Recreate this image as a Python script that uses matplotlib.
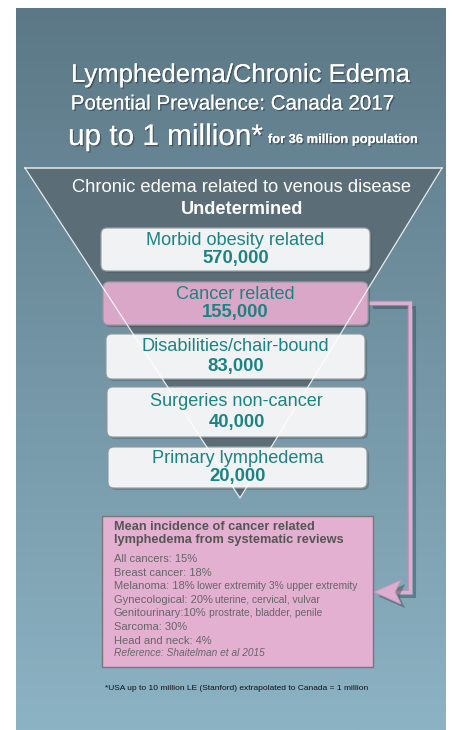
import numpy as np
import matplotlib
matplotlib.use("Agg")
import matplotlib.pyplot as plt
from matplotlib.patches import Polygon, FancyBboxPatch, Rectangle
import matplotlib.patheffects as pe

plt.rcParams['font.family'] = ['Liberation Sans', 'DejaVu Sans']

# Data
title_lines = ["Lymphedema/Chronic Edema", "Potential Prevalence: Canada 2017"]
headline = "up to 1 million*"
headline_small = "for 36 million population"
top_label = "Chronic edema related to venous disease"
top_value = "Undetermined"
categories = ["Morbid obesity related", "Cancer related", "Disabilities/chair-bound",
              "Surgeries non-cancer", "Primary lymphedema"]
values = [570000, 155000, 83000, 40000, 20000]
highlight = "Cancer related"

box_title = "Mean incidence of cancer related\nlymphedema from systematic reviews"
incidence_main = ["All cancers: 15%", "Breast cancer: 18%", "Melanoma: 18%", "Gynecological: 20%",
                  "Genitourinary:10%", "Sarcoma: 30%", "Head and neck: 4%"]
incidence_note = ["", "", "lower extremity 3% upper extremity", "uterine, cervical, vulvar",
                  "prostrate, bladder, penile", "", ""]
reference = "Reference: Shaitelman et al 2015"
footnote = "*USA up to 10 million LE (Stanford) extrapolated to Canada = 1 million"

# Layout (pixel coords, y down)
W, H = 462, 730
box_rows = [(101, 370, 228, 271), (103, 368, 282, 325), (106, 365, 334, 379),
            (107, 366, 387, 437), (108, 367, 447, 488)]

fig = plt.figure(figsize=(W / 100, H / 100), dpi=100)
ax = fig.add_axes([0, 0, 1, 1])
ax.set_xlim(0, W)
ax.set_ylim(H, 0)
ax.axis('off')

# gradient panel
grad = np.linspace(0, 1, 256).reshape(-1, 1)
top_c = np.array([0x5c, 0x78, 0x86]) / 255
bot_c = np.array([0x8c, 0xb3, 0xc4]) / 255
img = top_c + (bot_c - top_c) * grad[:, :, None]
ax.imshow(img, extent=[16, 446, 730, 8], aspect='auto', zorder=0)

shadow = [pe.withSimplePatchShadow(offset=(1, -1), shadow_rgbFace='#2c3a42', alpha=0.6), pe.Normal()]

# titles
ax.text(241, 75, title_lines[0], color='white', fontsize=18.5, ha='center', va='center',
        path_effects=shadow)
ax.text(232, 104, title_lines[1], color='white', fontsize=14.8, ha='center', va='center',
        path_effects=shadow)
t1 = ax.text(68, 137, headline, color='white', fontsize=21.4, ha='left', va='center',
             path_effects=shadow)
fig.canvas.draw()
x_end = ax.transData.inverted().transform(t1.get_window_extent().p1)[0]
ax.text(x_end + 5, 140, headline_small, color='white', fontsize=9.3, fontweight='bold',
        ha='left', va='center', path_effects=shadow)

# funnel triangle
tri = Polygon([[25, 168], [442, 168], [240, 498]], closed=True, facecolor='#5b6d77',
              edgecolor='none', zorder=1)
ax.add_patch(tri)
ax.plot([25, 442], [168, 168], color='#d8e0e4', lw=1.2, zorder=1.5)

ax.text(242, 188, top_label, color='white', fontsize=13.2, ha='center', va='center', zorder=2)
ax.text(242, 210, top_value, color='white', fontsize=13.1, fontweight='bold', ha='center',
        va='center', zorder=2)

# category boxes
for (x0, x1, y0, y1), cat, val in zip(box_rows, categories, values):
    is_hi = cat == highlight
    fc = '#dca8c9' if is_hi else '#f1f3f5'
    p = FancyBboxPatch((x0, y0), x1 - x0, y1 - y0,
                       boxstyle="round,pad=0,rounding_size=6", facecolor=fc,
                       edgecolor='#8a969c', lw=0.8, alpha=0.93, zorder=3,
                       path_effects=[pe.withSimplePatchShadow(offset=(1.5, -1.5), alpha=0.35), pe.Normal()])
    ax.add_patch(p)
    cx = (x0 + x1) / 2
    ax.text(cx, y0 + (y1 - y0) * 0.28, cat, color='#1b8482', fontsize=13.1, ha='center',
            va='center', zorder=5)
    ax.text(cx, y0 + (y1 - y0) * 0.72, f"{val:,}", color='#1b8482', fontsize=13.3,
            fontweight='bold', ha='center', va='center', zorder=5)

# triangle outline drawn through the boxes
ax.plot([25, 240, 442], [168, 498, 168], color='white', lw=0.9, alpha=0.85, zorder=4)

# connector from cancer box to incidence box
conn_c = '#dcaed0'
line_fx = [pe.SimpleLineShadow(offset=(3, -3), shadow_color='#2c3a42', alpha=0.4),
           pe.Stroke(linewidth=3.2, foreground='#c493b8'), pe.Normal()]
ax.plot([370, 410, 410, 396], [303, 303, 592, 592], color=conn_c, lw=2.2,
        solid_joinstyle='miter', zorder=2, path_effects=line_fx)
arrow = Polygon([[374, 592], [401, 580], [395, 592], [401, 604]], closed=True,
                facecolor=conn_c, edgecolor='#c493b8', lw=0.5, zorder=3,
                path_effects=[pe.withSimplePatchShadow(offset=(3, -3), shadow_rgbFace='#2c3a42',
                                                       alpha=0.4), pe.Normal()])
ax.add_patch(arrow)

# incidence box
ax.add_patch(Rectangle((102, 516), 271, 151, facecolor='#e3b0d1', edgecolor='#777777',
                       lw=1, zorder=2))
ax.text(114, 521, box_title, color='#555555', fontsize=9.2, fontweight='bold', ha='left',
        va='top', linespacing=1.15, zorder=3)
line_y = 559
for main, note in zip(incidence_main, incidence_note):
    t = ax.text(114, line_y, main, color='#666666', fontsize=8, ha='left', va='center', zorder=3)
    if note:
        fig.canvas.draw()
        xe = ax.transData.inverted().transform(t.get_window_extent().p1)[0]
        ax.text(xe + 2, line_y, note, color='#666666', fontsize=7.4, ha='left', va='center',
                zorder=3)
    line_y += 13.6
ax.text(114, line_y - 1, reference, color='#666666', fontsize=7.3, style='italic', ha='left',
        va='center', zorder=3)

ax.text(105, 688, footnote, color='#111111', fontsize=6.0, ha='left', va='center', zorder=3)

fig.savefig('out.png', dpi=100)
